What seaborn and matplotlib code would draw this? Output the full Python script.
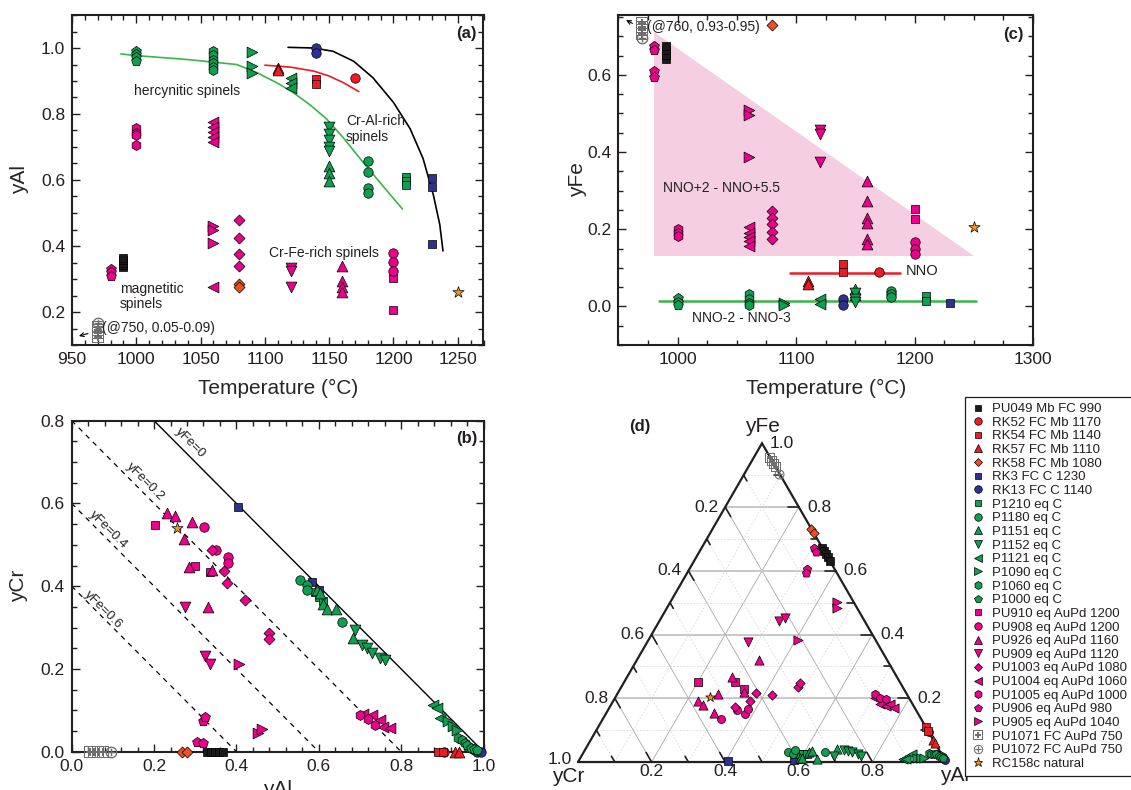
import numpy as np
import matplotlib
matplotlib.use("Agg")
import matplotlib.pyplot as plt
from matplotlib.lines import Line2D
from matplotlib.ticker import MultipleLocator, FuncFormatter
import seaborn as sns

sns.set_style("ticks")
plt.rcParams['font.family'] = ['Liberation Sans', 'DejaVu Sans']
plt.rcParams['mathtext.fontset'] = 'dejavusans'
plt.rcParams['axes.linewidth'] = 1.5
plt.rcParams['text.color'] = '#231F20'

# ---------------------------------------------------------------- data
samples = ["PU049 Mb FC 990", "RK52 FC Mb 1170", "RK54 FC Mb 1140", "RK57 FC Mb 1110",
           "RK58 FC Mb 1080", "RK3 FC C 1230", "RK13 FC C 1140", "P1210 eq C", "P1180 eq C",
           "P1151 eq C", "P1152 eq C", "P1121 eq C", "P1090 eq C", "P1060 eq C", "P1000 eq C",
           "PU910 eq AuPd 1200", "PU908 eq AuPd 1200", "PU926 eq AuPd 1160", "PU909 eq AuPd 1120",
           "PU1003 eq AuPd 1080", "PU1004 eq AuPd 1060", "PU1005 eq AuPd 1000", "PU906 eq AuPd 980",
           "PU905 eq AuPd 1040", "PU1071 FC AuPd 750", "PU1072 FC AuPd 750", "RC158c natural"]

# temperature where each sample is plotted in (a) and (c); 750 °C runs shown off-scale
T_plot = [990, 1170, 1140, 1110, 1080, 1230, 1140, 1210, 1180, 1150, 1150, 1120, 1090, 1060, 1000,
          1200, 1200, 1160, 1120, 1080, 1060, 1000, 980, 1060, 970, 970, 1250]

# panel (a): yAl
yAl_a = [
    [0.335, 0.343, 0.350, 0.357, 0.365],
    [0.910],
    [0.907, 0.890],
    [0.940, 0.933],
    [0.285, 0.275],
    [0.607, 0.580, 0.405],
    [1.000, 0.985],
    [0.610, 0.597, 0.585],
    [0.657, 0.625, 0.575, 0.560],
    [0.643, 0.620, 0.597],
    [0.762, 0.740, 0.720, 0.700, 0.688],
    [0.910, 0.895, 0.880],
    [0.987, 0.945, 0.925],
    [0.990, 0.978, 0.965, 0.955, 0.943, 0.932],
    [0.992, 0.982, 0.972, 0.962],
    [0.302, 0.205],
    [0.380, 0.352, 0.325],
    [0.340, 0.295, 0.275, 0.260],
    [0.333, 0.325, 0.275],
    [0.480, 0.425, 0.375, 0.340],
    [0.775, 0.760, 0.745, 0.730, 0.715, 0.275],
    [0.757, 0.743, 0.737, 0.707],
    [0.330, 0.320, 0.310],
    [0.460, 0.450, 0.410],
    [0.125, 0.135, 0.145, 0.155],
    [0.168],
    [0.260],
]

# panel (c): yFe
yFe_c = [
    [0.640, 0.652, 0.664, 0.675],
    [0.089],
    [0.110, 0.090],
    [0.067, 0.058],
    [0.728],
    [0.009],
    [0.020, 0.003],
    [0.028, 0.015],
    [0.041, 0.033, 0.024],
    [0.046, 0.030],
    [0.036, 0.020, 0.011],
    [0.018, 0.007],
    [0.010, 0.003],
    [0.032, 0.020, 0.010, 0.003],
    [0.022, 0.011, 0.003],
    [0.253, 0.226],
    [0.166, 0.150, 0.136],
    [0.325, 0.273, 0.230, 0.217, 0.175, 0.162],
    [0.457, 0.446, 0.374],
    [0.248, 0.230, 0.213, 0.193, 0.174],
    [0.205, 0.190, 0.180, 0.170, 0.157],
    [0.200, 0.190, 0.182],
    [0.675, 0.665, 0.610, 0.595],
    [0.510, 0.495, 0.387],
    [0.705, 0.715, 0.725, 0.735],
    [0.695],
    [0.205],
]

# panels (b) and (d): composition yAl, yCr  (yFe = 1 - yAl - yCr)
yAl_b = [
    [0.328, 0.338, 0.348, 0.358, 0.368],
    [0.905],
    [0.890, 0.902],
    [0.931, 0.940],
    [0.268, 0.280],
    [0.405, 0.583, 0.600],
    [0.985, 0.995],
    [0.590, 0.600, 0.610],
    [0.554, 0.571, 0.571, 0.656],
    [0.595, 0.603, 0.611, 0.619, 0.643, 0.684],
    [0.688, 0.704, 0.716, 0.729, 0.749, 0.761],
    [0.878, 0.886, 0.894],
    [0.915, 0.925, 0.935],
    [0.939, 0.947, 0.955, 0.963, 0.971],
    [0.960, 0.970, 0.978, 0.985],
    [0.202, 0.300, 0.336],
    [0.321, 0.350, 0.379, 0.380],
    [0.231, 0.251, 0.291, 0.273, 0.286, 0.332, 0.340],
    [0.275, 0.324, 0.336],
    [0.340, 0.370, 0.376, 0.422, 0.480, 0.480],
    [0.708, 0.729, 0.749, 0.757, 0.773],
    [0.700, 0.720, 0.737],
    [0.305, 0.318, 0.320, 0.324],
    [0.453, 0.462, 0.407],
    [0.045, 0.055, 0.065, 0.075],
    [0.095],
    [0.255],
]
yCr_b = [
    [0, 0, 0, 0, 0],
    [0],
    [0, 0],
    [0, 0],
    [0, 0],
    [0.592, 0.410, 0.390],
    [0, 0],
    [0.385, 0.375, 0.365],
    [0.415, 0.403, 0.391, 0.314],
    [0.391, 0.383, 0.358, 0.346, 0.346, 0.274],
    [0.294, 0.258, 0.250, 0.238, 0.226, 0.221],
    [0.113, 0.105, 0.081],
    [0.073, 0.063, 0.053],
    [0.032, 0.028, 0.020, 0.012, 0.006],
    [0.015, 0.010, 0.006, 0.003],
    [0.548, 0.448, 0.435],
    [0.543, 0.487, 0.471, 0.455],
    [0.578, 0.569, 0.554, 0.513, 0.447, 0.349, 0.440],
    [0.349, 0.232, 0.211],
    [0.487, 0.437, 0.408, 0.367, 0.286, 0.272],
    [0.092, 0.088, 0.076, 0.060, 0.057],
    [0.088, 0.080, 0.064],
    [0.024, 0.022, 0.075, 0.083],
    [0.046, 0.054, 0.211],
    [0, 0, 0, 0],
    [0],
    [0.540],
]

# curves in panel (a)
green_curve_T = [988, 1000, 1040, 1078, 1094, 1110, 1122, 1135, 1148, 1161, 1174, 1190, 1207]
green_curve_yAl = [0.982, 0.977, 0.965, 0.950, 0.925, 0.893, 0.865, 0.828, 0.785, 0.728, 0.665, 0.590, 0.512]
red_curve_T = [1100, 1120, 1138, 1150, 1161, 1173]
red_curve_yAl = [0.948, 0.942, 0.930, 0.915, 0.895, 0.868]
black_curve_T = [1118, 1138, 1153, 1169, 1184, 1200, 1213, 1223, 1231, 1236, 1238.5]
black_curve_yAl = [1.002, 1.000, 0.990, 0.960, 0.910, 0.835, 0.755, 0.665, 0.555, 0.465, 0.385]

# fO2 fields in panel (c)
oxid_field_T = [980, 980, 1250]
oxid_field_yFe = [0.71, 0.13, 0.13]
nno_T = [1095, 1188]
nno_yFe = [0.087, 0.087]
nno_red_T = [984, 1252]
nno_red_yFe = [0.015, 0.015]

# iso-yFe lines in panel (b)
iso_yFe = [0.0, 0.2, 0.4, 0.6]

# ---------------------------------------------------------------- styles
GREEN = '#0E9F50'
MAG = '#EC008C'
RED = '#ED1C24'
ORED = '#F04E23'
NAVY = '#2E3192'
BLK = '#1A1A1A'
GRAY = '#6E6E6E'
STAR = '#F7941D'
BOXPLUS = r'$\boxplus$'
OPLUS = r'$\oplus$'

markers = ['s', 'o', 's', '^', 'D', 's', 'o', 's', 'o', '^', 'v', '<', '>', 'h', 'p',
           's', 'o', '^', 'v', 'D', '<', 'h', 'p', '>', BOXPLUS, OPLUS, '*']
colors = [BLK, RED, RED, RED, ORED, NAVY, NAVY] + [GREEN] * 8 + [MAG] * 9 + [GRAY, GRAY, STAR]
msz = {'s': 6.0, 'o': 6.8, '^': 7.8, 'v': 7.8, '<': 7.8, '>': 7.8, 'D': 5.6, 'h': 7.2, 'p': 7.4,
       '*': 8.5, BOXPLUS: 8.5, OPLUS: 8.5}

W, H = 1131, 790
fig = plt.figure(figsize=(W / 100, H / 100), dpi=100)


def rect(l, t, r, b):
    return [l / W, 1 - b / H, (r - l) / W, (b - t) / H]


def draw_samples(ax, xs, ys, scale=1.0):
    for i in range(len(samples)):
        m = markers[i]
        c = colors[i]
        text_marker = m.startswith('$')
        sns.scatterplot(x=xs[i], y=ys[i], ax=ax, marker=m, color=c,
                        s=(msz[m] * scale) ** 2,
                        edgecolor=(c if text_marker else 'black'),
                        linewidth=(0 if text_marker else 0.5),
                        zorder=3, clip_on=False, legend=False)


fmt1 = FuncFormatter(lambda v, p: f"{0.0 if abs(v) < 1e-9 else v:.1f}")


def style_axes(ax):
    ax.tick_params(which='both', direction='in', top=True, right=True, labelsize=12.5,
                   width=1.0, pad=5, colors='#231F20')
    ax.tick_params(which='major', length=6)
    ax.tick_params(which='minor', length=3.5)
    for sp in ax.spines.values():
        sp.set_linewidth(1.5)
        sp.set_color('#231F20')


LAB = 15
ANN = 10

# ---------------------------------------------------------------- panel (a)
ax_a = fig.add_axes(rect(72, 15, 483.5, 345))
sns.lineplot(x=green_curve_T, y=green_curve_yAl, sort=False, estimator=None, color='#3BB44A',
             lw=1.2, ax=ax_a, zorder=2)
sns.lineplot(x=red_curve_T, y=red_curve_yAl, sort=False, estimator=None, color=RED,
             lw=1.2, ax=ax_a, zorder=2)
sns.lineplot(x=black_curve_T, y=black_curve_yAl, sort=False, estimator=None, color='black',
             lw=1.2, ax=ax_a, zorder=2)
draw_samples(ax_a, [[t] * len(v) for t, v in zip(T_plot, yAl_a)], yAl_a)
ax_a.set_xlim(950, 1270)
ax_a.set_ylim(0.1, 1.1)
ax_a.xaxis.set_major_locator(MultipleLocator(50))
ax_a.xaxis.set_minor_locator(MultipleLocator(10))
ax_a.yaxis.set_major_locator(MultipleLocator(0.2))
ax_a.yaxis.set_minor_locator(MultipleLocator(0.05))
ax_a.yaxis.set_major_formatter(fmt1)
style_axes(ax_a)
ax_a.set_xlabel("Temperature (°C)", fontsize=LAB)
ax_a.set_ylabel("yAl", fontsize=LAB)
ax_a.xaxis.set_label_coords(0.5, -0.103)
ax_a.yaxis.set_label_coords(-0.105, 0.5)
ax_a.text(998, 0.869, "hercynitic spinels", fontsize=ANN, va='center')
ax_a.text(1163, 0.755, "Cr-Al-rich\nspinels", fontsize=ANN, va='center', linespacing=1.15)
ax_a.text(1103, 0.38, "Cr-Fe-rich spinels", fontsize=ANN, va='center')
ax_a.text(987, 0.247, "magnetitic\nspinels", fontsize=ANN, va='center', linespacing=1.15)
ax_a.text(973.5, 0.151, "(@750, 0.05-0.09)", fontsize=ANN, va='center')
ax_a.annotate('', xy=(953.3, 0.125), xytext=(964.5, 0.137),
              arrowprops=dict(arrowstyle='->', lw=0.8, color='black', mutation_scale=7))
ax_a.text(0.983, 0.945, "(a)", transform=ax_a.transAxes, fontsize=12, fontweight='bold',
          ha='right', va='center')

# ---------------------------------------------------------------- panel (c)
ax_c = fig.add_axes(rect(618.3, 15, 1033, 345))
ax_c.fill(oxid_field_T, oxid_field_yFe, color='#F5CEE2', lw=0, zorder=0.5)
sns.lineplot(x=nno_T, y=nno_yFe, sort=False, estimator=None, color=RED, lw=1.8, ax=ax_c, zorder=2)
sns.lineplot(x=nno_red_T, y=nno_red_yFe, sort=False, estimator=None, color='#3BB44A', lw=1.8,
             ax=ax_c, zorder=2)
draw_samples(ax_c, [[t] * len(v) for t, v in zip(T_plot, yFe_c)], yFe_c)
ax_c.set_xlim(950, 1300)
ax_c.set_ylim(-0.1, 0.755)
ax_c.xaxis.set_major_locator(MultipleLocator(100))
ax_c.xaxis.set_minor_locator(MultipleLocator(25))
ax_c.yaxis.set_major_locator(MultipleLocator(0.2))
ax_c.yaxis.set_minor_locator(MultipleLocator(0.05))
ax_c.yaxis.set_major_formatter(fmt1)
style_axes(ax_c)
ax_c.set_xlabel("Temperature (°C)", fontsize=LAB)
ax_c.set_ylabel("yFe", fontsize=LAB)
ax_c.xaxis.set_label_coords(0.5, -0.103)
ax_c.yaxis.set_label_coords(-0.0755, 0.5)
ax_c.text(987.5, 0.308, "NNO+2 - NNO+5.5", fontsize=ANN, va='center')
ax_c.text(1193, 0.091, "NNO", fontsize=10.5, va='center')
ax_c.text(1012, -0.03, "NNO-2 - NNO-3", fontsize=ANN, va='center')
ax_c.text(974, 0.725, "(@760, 0.93-0.95)", fontsize=ANN, va='center')
ax_c.annotate('', xy=(954.5, 0.745), xytext=(964, 0.73),
              arrowprops=dict(arrowstyle='->', lw=0.8, color='black', mutation_scale=7))
ax_c.text(0.978, 0.942, "(c)", transform=ax_c.transAxes, fontsize=12, fontweight='bold',
          ha='right', va='center')

# ---------------------------------------------------------------- panel (b)
ax_b = fig.add_axes(rect(71.7, 420.7, 483.5, 751.7))
for f in iso_yFe:
    x0 = max(0.0, 0.2 - f)
    x1 = 1.0 - f
    xs = [x0, x1]
    ys = [1.0 - f - x0, 1.0 - f - x1]
    ax_b.plot(xs, ys, color='black', lw=1.0 if f == 0 else 0.9,
              ls='-' if f == 0 else (0, (4, 4)), zorder=1)
iso_label_pos = [(0.287, 0.746), (0.178, 0.653), (0.088, 0.536), (0.076, 0.342)]
for f, (lx, ly) in zip(iso_yFe, iso_label_pos):
    lab = "yFe=0" if f == 0 else f"yFe={f:.1f}"
    ax_b.text(lx, ly, lab, rotation=-45, rotation_mode='anchor', ha='center', va='center',
              fontsize=9.5)
draw_samples(ax_b, yAl_b, yCr_b)
ax_b.set_xlim(0, 1.0)
ax_b.set_ylim(0, 0.8)
ax_b.xaxis.set_major_locator(MultipleLocator(0.2))
ax_b.xaxis.set_minor_locator(MultipleLocator(0.04))
ax_b.yaxis.set_major_locator(MultipleLocator(0.2))
ax_b.yaxis.set_minor_locator(MultipleLocator(0.05))
ax_b.xaxis.set_major_formatter(fmt1)
ax_b.yaxis.set_major_formatter(fmt1)
style_axes(ax_b)
ax_b.set_xlabel("yAl", fontsize=LAB)
ax_b.set_ylabel("yCr", fontsize=LAB)
ax_b.xaxis.set_label_coords(0.5, -0.0855)
ax_b.yaxis.set_label_coords(-0.106, 0.5)
ax_b.text(0.985, 0.945, "(b)", transform=ax_b.transAxes, fontsize=12, fontweight='bold',
          ha='right', va='center')

# ---------------------------------------------------------------- panel (d) ternary
ax_d = fig.add_axes(rect(522.8, 412.4, 982.8, 784.1))
ax_d.set_xlim(-0.15, 1.1)
ax_d.set_ylim(-0.06, 0.95)
ax_d.set_axis_off()
S3 = np.sqrt(3) / 2


def tern(al, fe):
    al = np.asarray(al, float)
    fe = np.asarray(fe, float)
    return al + 0.5 * fe, S3 * fe


# grid
for k in range(1, 10):
    v = k / 10
    major = (k % 2 == 0)
    x, y = tern([0, 1 - v], [v, v])
    ax_d.plot(x, y, color='#C4C4C4' if major else '#D8D8D8', lw=1.3 if major else 0.6,
              ls='-' if major else (0, (2, 2)), zorder=0.5)
    x, y = tern([v, v], [0, 1 - v])
    ax_d.plot(x, y, color='#A8A8A8' if major else '#D8D8D8', lw=0.6,
              ls='-' if major else (0, (2, 2)), zorder=0.5)
    x, y = tern([1 - v, 0], [0, 1 - v])
    ax_d.plot(x, y, color='#A8A8A8' if major else '#D8D8D8', lw=0.6,
              ls='-' if major else (0, (2, 2)), zorder=0.5)

fx, fy = tern([0, 1, 0, 0], [0, 0, 1, 0])
ax_d.plot(fx, fy, color='#231F20', lw=1.6, zorder=2, solid_joinstyle='miter')

for k in range(1, 10):
    v = k / 10
    L = 0.03 if k % 2 == 0 else 0.018
    x, y = tern([1 - v], [v])
    ax_d.plot([x[0], x[0] - L], [y[0], y[0]], color='#231F20', lw=1.2, zorder=2)
    x, y = tern([0], [1 - v])
    ax_d.plot([x[0], x[0] + L * 0.5], [y[0], y[0] - L * S3], color='#231F20', lw=1.2, zorder=2)
    x, y = tern([v], [0])
    ax_d.plot([x[0], x[0] - L * 0.5], [y[0], y[0] + L * S3], color='#231F20', lw=1.2, zorder=2)

for k in range(1, 6):
    v = k / 5
    x, y = tern([0], [1 - v])
    dy = 0.008 if k == 5 else 0.0
    ax_d.text(x[0] - 0.018, y[0] + dy, f"{v:.1f}", ha='right', va='center', fontsize=12.5)
    x, y = tern([1 - v], [v])
    ax_d.text(x[0] + 0.022, y[0], f"{v:.1f}", ha='left', va='center', fontsize=12.5)
for k in range(1, 5):
    v = k / 5
    ax_d.text(v, -0.027, f"{v:.1f}", ha='center', va='center', fontsize=12.5)

ax_d.text(0.5, S3 + 0.046, "yFe", ha='center', va='center', fontsize=LAB)
ax_d.text(-0.027, -0.039, "yCr", ha='center', va='center', fontsize=LAB)
ax_d.text(1.024, -0.037, "yAl", ha='center', va='center', fontsize=LAB)
ax_d.text(0.167, 0.911, "(d)", ha='center', va='center', fontsize=12, fontweight='bold')

tx, ty = [], []
for al, cr in zip(yAl_b, yCr_b):
    fe = [1 - a - c for a, c in zip(al, cr)]
    x, y = tern(al, fe)
    tx.append(list(x))
    ty.append(list(y))
draw_samples(ax_d, tx, ty, scale=0.85)

# ---------------------------------------------------------------- legend
handles = []
for i, name in enumerate(samples):
    m = markers[i]
    c = colors[i]
    tm = m.startswith('$')
    handles.append(Line2D([], [], linestyle='none', marker=m, markersize=msz[m] * 0.8,
                          markerfacecolor=c, markeredgecolor=(c if tm else 'black'),
                          markeredgewidth=(0 if tm else 0.5)))
leg = fig.legend(handles, samples, loc='upper left', bbox_to_anchor=(965 / W, 1 - 397 / H),
                 fontsize=9.5, labelspacing=0.107, handlelength=1.0, handletextpad=0.6,
                 borderpad=0.45, borderaxespad=0, fancybox=False, framealpha=1,
                 edgecolor='#231F20')
leg.get_frame().set_linewidth(0.9)

fig.savefig("out.png", dpi=100)
